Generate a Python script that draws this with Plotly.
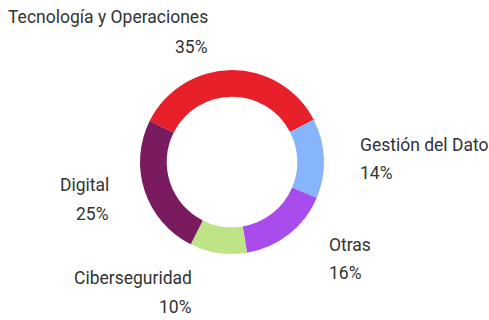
import plotly.graph_objects as go

# Distribution by area (share of total, %)
categories = ["Tecnología y Operaciones", "Gestión del Dato", "Otras", "Ciberseguridad", "Digital"]
values = [35, 14, 16, 10, 25]
colors = ["#E8202A", "#86B5FB", "#A84CEE", "#BFE486", "#7A1A5F"]

# Label placement: (x_px, y_px_name, y_px_pct, anchor)
W, H = 489, 320
label_pos = [
    (210, 17, 47, "right"),
    (358, 145, 173, "left"),
    (327, 245, 273, "left"),
    (194, 278, 307, "right"),
    (111, 185, 214, "right"),
]

cx, cy, r = 232, 162, 92

fig = go.Figure(
    go.Pie(
        labels=categories,
        values=values,
        marker=dict(colors=colors, line=dict(width=0)),
        hole=0.71,
        sort=False,
        direction="clockwise",
        rotation=-63.4,
        textinfo="none",
        hoverinfo="label+percent",
        showlegend=False,
        domain=dict(x=[(cx - r) / W, (cx + r) / W], y=[(H - cy - r) / H, (H - cy + r) / H]),
    )
)

font = dict(family="Roboto, 'Open Sans', sans-serif", size=17.5, color="#333333")
annotations = []
for name, val, (x, yn, yp, anc) in zip(categories, values, label_pos):
    annotations.append(dict(x=x / W, y=1 - yn / H, xref="paper", yref="paper", text=name,
                            showarrow=False, xanchor=anc, yanchor="middle", font=font))
    annotations.append(dict(x=x / W, y=1 - yp / H, xref="paper", yref="paper", text=f"{val}%",
                            showarrow=False, xanchor=anc, yanchor="middle", font=font))

fig.update_layout(
    width=W,
    height=H,
    margin=dict(l=0, r=0, t=0, b=0),
    paper_bgcolor="white",
    plot_bgcolor="white",
    annotations=annotations,
)

fig.write_html("out.html")
